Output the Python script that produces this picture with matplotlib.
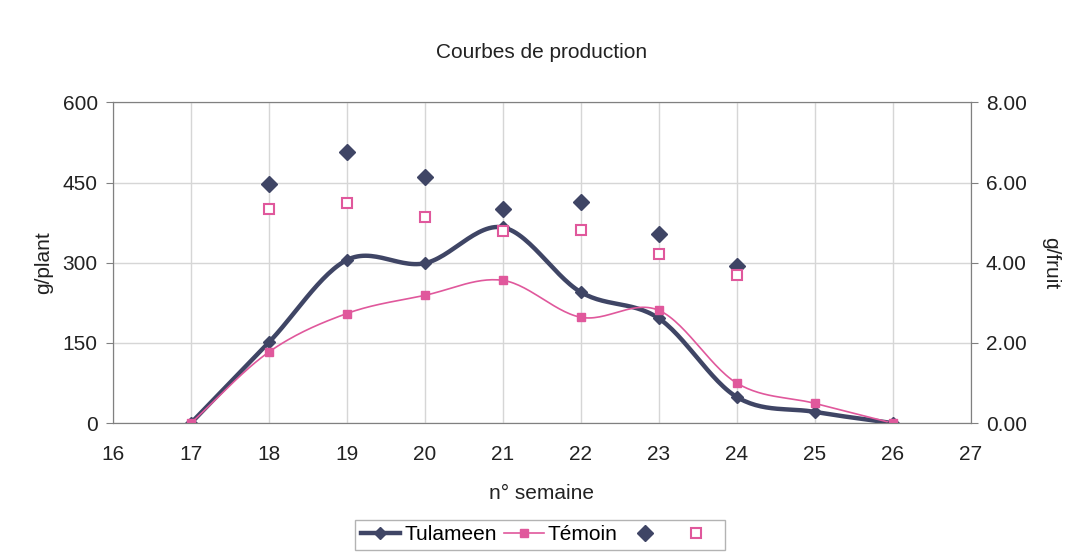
import matplotlib
matplotlib.use("Agg")
import matplotlib.pyplot as plt
import numpy as np

plt.rcParams['font.family'] = ['Liberation Sans', 'DejaVu Sans']

# données
semaines = [17, 18, 19, 20, 21, 22, 23, 24, 25, 26]
tulameen_plant = [0, 151, 305, 299, 366, 245, 196, 49, 21, 0]
temoin_plant = [0, 133, 205, 239, 267, 198, 211, 75, 37, 0]

semaines_fruit = [18, 19, 20, 21, 22, 23, 24]
tulameen_fruit = [5.96, 6.76, 6.13, 5.34, 5.51, 4.71, 3.92]
temoin_fruit = [5.34, 5.49, 5.14, 4.79, 4.81, 4.21, 3.69]

c_tul = '#3f4565'
c_tem = '#e0589c'


def lisser(x, y, n=30):
    # courbe lissée type Excel (Catmull-Rom)
    x = np.asarray(x, float)
    y = np.asarray(y, float)
    px = np.concatenate([[2 * x[0] - x[1]], x, [2 * x[-1] - x[-2]]])
    py = np.concatenate([[2 * y[0] - y[1]], y, [2 * y[-1] - y[-2]]])
    xs, ys = [], []
    t = np.linspace(0, 1, n)
    for i in range(1, len(px) - 2):
        for p, out in ((px, xs), (py, ys)):
            p0, p1, p2, p3 = p[i - 1], p[i], p[i + 1], p[i + 2]
            out.extend(0.5 * (2 * p1 + (-p0 + p2) * t + (2 * p0 - 5 * p1 + 4 * p2 - p3) * t ** 2
                              + (-p0 + 3 * p1 - 3 * p2 + p3) * t ** 3))
    return np.array(xs), np.array(ys)


fig = plt.figure(figsize=(10.76, 5.56), dpi=100)
ax = fig.add_axes([0.105, 0.239, 0.797, 0.577])
ax2 = ax.twinx()

xs, ys = lisser(semaines, tulameen_plant)
ax.plot(xs, ys, color=c_tul, lw=3.2, zorder=3)
ax.plot(semaines, tulameen_plant, ls='none', marker='D', ms=6, color=c_tul, zorder=4)
xs, ys = lisser(semaines, temoin_plant)
ax.plot(xs, ys, color=c_tem, lw=1.2, zorder=3)
ax.plot(semaines, temoin_plant, ls='none', marker='s', ms=6, color=c_tem, zorder=4)

ax2.plot(semaines_fruit, tulameen_fruit, ls='none', marker='D', ms=8, color=c_tul)
ax2.plot(semaines_fruit, temoin_fruit, ls='none', marker='s', ms=7,
         markerfacecolor='white', markeredgecolor=c_tem, markeredgewidth=1.5)

ax.set_xlim(16, 27)
ax.set_ylim(0, 600)
ax2.set_ylim(0, 8)
ax.set_xticks(range(16, 28))
ax.set_yticks([0, 150, 300, 450, 600])
ax2.set_yticks([0, 2, 4, 6, 8])
ax2.set_yticklabels(['%.2f' % v for v in [0, 2, 4, 6, 8]])
ax.grid(True, color='#d6d6d6', lw=1)
ax.set_axisbelow(True)
for a in (ax, ax2):
    for s in a.spines.values():
        s.set_color('#808080')
    a.tick_params(labelsize=15, colors='#808080', labelcolor='#222222', length=5, pad=6)
ax.tick_params(axis='x', length=0, pad=16)

ax.set_xlabel('n° semaine', fontsize=15, color='#222222', labelpad=14)
ax.set_ylabel('g/plant', fontsize=15, color='#222222', labelpad=7)
ax2.set_ylabel('g/fruit', fontsize=15, color='#222222', rotation=270, labelpad=24)
ax.set_title('Courbes de production', fontsize=15, color='#222222', pad=32)

h1 = plt.Line2D([], [], color=c_tul, lw=3.2, marker='D', ms=6)
h2 = plt.Line2D([], [], color=c_tem, lw=1.2, marker='s', ms=6)
h3 = plt.Line2D([], [], ls='none', color=c_tul, marker='D', ms=8)
h4 = plt.Line2D([], [], ls='none', marker='s', ms=7, markerfacecolor='white',
                markeredgecolor=c_tem, markeredgewidth=1.5)
leg = fig.legend([h1, h2, h3, h4], ['Tulameen', 'Témoin', '', ''], ncol=4,
                 loc='center', bbox_to_anchor=(0.502, 0.038), fontsize=15,
                 frameon=True, fancybox=False, edgecolor='#a0a0a0',
                 handlelength=1.9, handletextpad=0.2, columnspacing=0.35,
                 borderpad=0.25)
leg.get_frame().set_linewidth(1)

fig.savefig('out.png', dpi=100)
